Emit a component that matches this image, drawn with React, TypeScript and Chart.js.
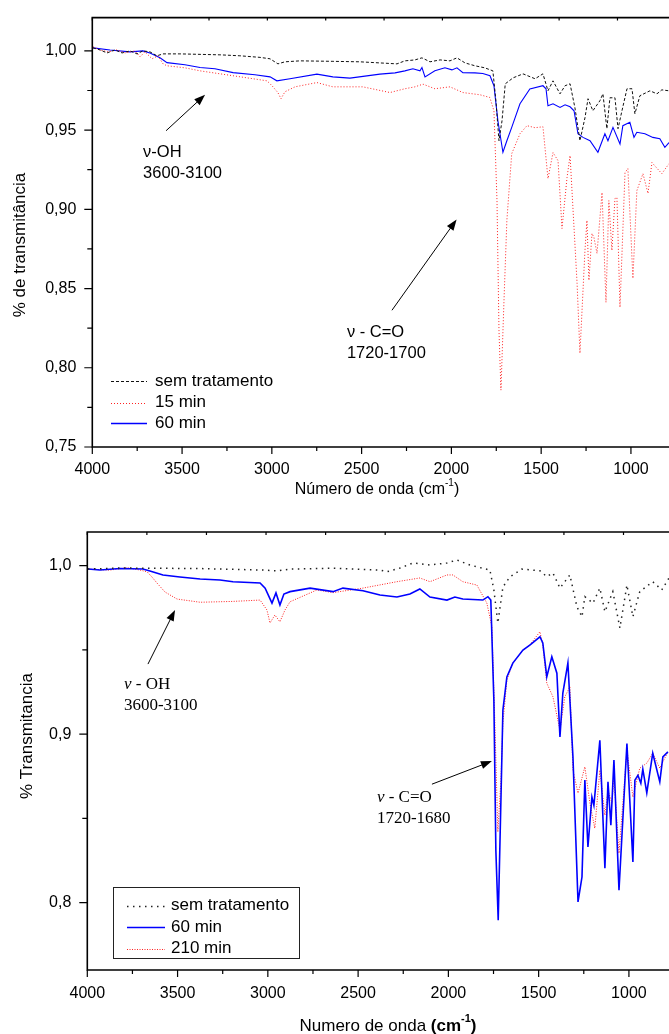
import React, { useEffect, useRef } from "react";
import { Chart, registerables } from "chart.js";

Chart.register(...registerables);

const SANS = "'Liberation Sans', Arial, sans-serif";
const SERIF = "'Liberation Serif', 'Times New Roman', serif";

// ================= TOP CHART DATA =================
const topXTicks = [4000, 3500, 3000, 2500, 2000, 1500, 1000];
const topXMinor = [3750, 3250, 2750, 2250, 1750, 1250];
const topXTopTicks = [4000, 3675, 3350, 3025, 2700, 2375, 2050, 1725, 1400, 1075];
const topYTicks = [0.75, 0.8, 0.85, 0.9, 0.95, 1.0];
const topYMinor = [0.775, 0.825, 0.875, 0.925, 0.975];
const topLabels = ["sem tratamento", "15 min", "60 min"];

const topSemWn = [3996,3957,3918,3874,3834,3790,3751,3718,3679,3640,3606,3512,3400,3289,3178,3066,3010,2966,2927,2843,2660,2510,2398,2303,2259,2203,2164,2119,2063,2008,1969,1924,1869,1814,1769,1752,1735,1718,1700,1656,1601,1534,1490,1462,1434,1395,1367,1339,1312,1284,1256,1239,1212,1173,1156,1134,1117,1089,1072,1050,1022,994,978,950,894,855,828,788];
const topSemT = [1.0019,1.0006,0.9987,1.0006,0.9987,1.0,0.9981,1.0,0.9994,0.9969,0.9981,0.9981,0.9978,0.9975,0.9969,0.9959,0.995,0.9918,0.9931,0.9937,0.9934,0.9931,0.9924,0.9918,0.9937,0.9943,0.9956,0.9931,0.9943,0.9937,0.9956,0.9924,0.9906,0.9893,0.9874,0.9685,0.9433,0.9559,0.9792,0.983,0.9855,0.9824,0.9855,0.9748,0.9811,0.9729,0.978,0.9792,0.9641,0.9433,0.9578,0.9698,0.9622,0.9685,0.9729,0.9509,0.9704,0.9704,0.9509,0.9622,0.9761,0.9761,0.9603,0.9717,0.9748,0.9729,0.9754,0.9748];

const top15Wn = [3996,3957,3912,3862,3817,3762,3734,3707,3667,3634,3606,3584,3484,3400,3216,3027,2999,2966,2949,2927,2871,2749,2660,2493,2342,2259,2203,2158,2092,2008,1936,1841,1786,1763,1746,1735,1724,1707,1691,1664,1618,1579,1534,1490,1462,1434,1406,1384,1356,1339,1300,1284,1256,1245,1234,1217,1206,1189,1161,1139,1123,1106,1089,1078,1061,1033,1017,989,967,933,905,883,828,788];
const top15T = [1.0025,1.0006,0.9994,1.0006,0.9987,1.0,0.9962,0.9994,0.995,0.9969,0.9918,0.9906,0.9893,0.9874,0.9843,0.9811,0.978,0.9736,0.9698,0.9742,0.9773,0.98,0.9773,0.9773,0.9737,0.9761,0.9773,0.979,0.9761,0.9773,0.9737,0.9723,0.9706,0.9622,0.9055,0.8237,0.7859,0.8426,0.893,0.9351,0.9477,0.9528,0.9515,0.9521,0.9194,0.9358,0.9307,0.8879,0.92,0.9339,0.8533,0.8092,0.8741,0.893,0.8552,0.8848,0.8822,0.8722,0.9106,0.8413,0.9055,0.8741,0.9068,0.9074,0.8382,0.9232,0.9257,0.8564,0.9118,0.9225,0.91,0.9295,0.9225,0.9288];

const top60Wn = [3996,3901,3790,3718,3679,3623,3584,3484,3400,3317,3216,3094,3010,2972,2899,2749,2660,2565,2398,2314,2259,2214,2175,2164,2147,2092,2036,1997,1969,1936,1869,1825,1785,1763,1741,1713,1691,1664,1618,1563,1490,1473,1462,1434,1395,1367,1339,1317,1295,1267,1228,1184,1145,1128,1100,1061,1045,1006,983,967,922,878,839,811,788];
const top60T = [1.0019,1.0006,0.9994,1.0,0.9987,0.9956,0.9926,0.9912,0.9895,0.9887,0.9863,0.9849,0.9836,0.9811,0.9824,0.9853,0.9836,0.9828,0.9853,0.9861,0.9874,0.9887,0.9874,0.9895,0.9836,0.9874,0.9893,0.988,0.9893,0.9863,0.9861,0.9857,0.9843,0.978,0.9559,0.936,0.9433,0.9517,0.9666,0.9759,0.978,0.9761,0.9654,0.9666,0.9643,0.966,0.9647,0.9622,0.9477,0.9454,0.9433,0.936,0.9477,0.9433,0.9517,0.9412,0.9528,0.9549,0.9454,0.9486,0.9477,0.9454,0.9446,0.9391,0.9421];

// ================= BOTTOM CHART DATA =================
const botXTicks = [4000, 3500, 3000, 2500, 2000, 1500, 1000];
const botXMinor = [3750, 3250, 2750, 2250, 1750, 1250];
const botXTopTicks = [4000, 3670, 3340, 3010, 2680, 2350, 2020, 1690, 1360, 1030];
const botYTicks = [0.8, 0.9, 1.0];
const botYMinor = [0.85, 0.95];
const botLabels = ["sem tratamento", "60 min", "210 min"];

const botSemWn = [3996,3819,3653,3375,3026,2949,2877,2639,2379,2340,2268,2196,2102,2008,1953,1881,1770,1748,1726,1698,1660,1593,1493,1455,1421,1382,1327,1288,1260,1244,1199,1161,1133,1089,1050,1011,978,940,868,818,778];
const botSemT = [0.998,0.9986,0.9985,0.9983,0.9974,0.9969,0.998,0.9985,0.9974,0.9964,0.9986,1.0016,1.0004,1.0016,1.0034,1.0004,0.9974,0.9856,0.966,0.9873,0.9933,0.998,0.997,0.9935,0.9957,0.9867,0.9945,0.9756,0.9697,0.9816,0.9778,0.9867,0.9727,0.9846,0.963,0.9885,0.9697,0.9846,0.9905,0.9856,0.9927];

const bot60Wn = [3996,3930,3819,3692,3653,3581,3487,3375,3265,3193,3043,3015,2977,2955,2933,2911,2877,2766,2639,2584,2473,2379,2285,2213,2158,2102,2008,1964,1920,1809,1781,1765,1748,1737,1724,1709,1698,1676,1643,1587,1549,1493,1477,1455,1427,1399,1382,1366,1338,1310,1282,1260,1244,1227,1205,1194,1161,1133,1116,1100,1083,1055,1011,978,967,950,934,923,901,868,829,812,784];
const bot60T = [0.998,0.9974,0.9983,0.998,0.9969,0.9945,0.9933,0.9921,0.9915,0.9905,0.9897,0.9867,0.9778,0.9838,0.9766,0.9832,0.9846,0.9867,0.9846,0.9867,0.9851,0.9826,0.9814,0.9832,0.9862,0.9814,0.9796,0.9814,0.9802,0.9796,0.9816,0.9796,0.92,0.831,0.7895,0.8608,0.9143,0.934,0.9422,0.9499,0.9529,0.9578,0.9541,0.934,0.9459,0.9362,0.8984,0.9244,0.9422,0.8865,0.8004,0.8152,0.8727,0.833,0.8627,0.8578,0.8964,0.8204,0.8717,0.8459,0.8846,0.8073,0.8945,0.8241,0.8727,0.8756,0.8709,0.8792,0.8651,0.8887,0.8717,0.8865,0.8895];

const bot210Wn = [3996,3874,3780,3708,3669,3642,3614,3570,3503,3375,3193,3043,3005,2988,2961,2933,2905,2877,2728,2639,2473,2285,2158,2102,2008,1975,1920,1842,1787,1759,1743,1726,1709,1698,1676,1643,1587,1549,1493,1477,1455,1421,1382,1355,1327,1310,1282,1244,1216,1189,1161,1133,1116,1094,1083,1055,1011,978,940,901,868,829,784];
const bot210T = [0.998,0.9974,0.9988,0.9974,0.9964,0.9933,0.9897,0.9844,0.9802,0.9783,0.9788,0.9796,0.9737,0.966,0.9707,0.9667,0.9737,0.9786,0.9856,0.984,0.9867,0.9905,0.9927,0.9905,0.9945,0.9945,0.9905,0.9885,0.9778,0.9638,0.9083,0.842,0.8727,0.9065,0.9321,0.9422,0.9499,0.9529,0.9608,0.9529,0.9303,0.9222,0.9024,0.9222,0.9281,0.8786,0.865,0.8806,0.859,0.8441,0.8786,0.8519,0.8667,0.859,0.8746,0.8293,0.8906,0.8627,0.8798,0.8828,0.8887,0.8798,0.8895];

// ================= helpers =================
const pts = (wn: number[], t: number[]) => wn.map((w, i) => ({ x: w, y: t[i] }));

type Part = { t: string; bold?: boolean; sup?: boolean };
type Ann = { lines: string[]; x: number; y: number; arrow: [number, number, number, number] };
type Spec = {
  width: number; height: number; padTop: number; yAxisW: number; xAxisH: number;
  xMin: number; xMax: number; yMin: number; yMax: number;
  xTicks: number[]; xMinor: number[]; xTop: number[]; yTicks: number[]; yMinor: number[]; decimals: number;
  xPad: number; yPad: number;
  datasets: any[];
  legend: { rows: number[]; lineX: [number, number]; textX: number; box?: [number, number, number, number]; font: string; widths: number[] };
  anns: Ann[]; annFont: string; annItalicFont?: string; annGap: number;
  xTitle: { parts: Part[]; cx: number; cy: number; size: number };
  yTitle: { text: string; cx: number; cy: number; size: number };
};

function extras(spec: Spec) {
  return {
    id: "extras",
    afterDraw(chart: any) {
      const ctx: CanvasRenderingContext2D = chart.ctx;
      const a = chart.chartArea;
      const xs = chart.scales.x;
      const ys = chart.scales.y;
      ctx.save();
      ctx.globalAlpha = 1;
      ctx.setLineDash([]);
      ctx.strokeStyle = "#000";
      // frame
      ctx.lineWidth = 1.6;
      ctx.beginPath();
      ctx.moveTo(a.right + 3, a.top);
      ctx.lineTo(a.left, a.top);
      ctx.lineTo(a.left, a.bottom);
      ctx.lineTo(a.right + 3, a.bottom);
      ctx.stroke();
      // ticks
      ctx.lineWidth = 1.2;
      ctx.beginPath();
      spec.xTicks.forEach((v) => { const p = xs.getPixelForValue(v); ctx.moveTo(p, a.bottom); ctx.lineTo(p, a.bottom + 7); });
      spec.xMinor.forEach((v) => { const p = xs.getPixelForValue(v); ctx.moveTo(p, a.bottom); ctx.lineTo(p, a.bottom + 4); });
      spec.xTop.forEach((v) => { const p = xs.getPixelForValue(v); ctx.moveTo(p, a.top); ctx.lineTo(p, a.top + 3); });
      spec.yTicks.forEach((v) => { const p = ys.getPixelForValue(v); ctx.moveTo(a.left - 8, p); ctx.lineTo(a.left, p); });
      spec.yMinor.forEach((v) => { const p = ys.getPixelForValue(v); ctx.moveTo(a.left - 5, p); ctx.lineTo(a.left, p); });
      ctx.stroke();

      // annotations
      ctx.fillStyle = "#000";
      spec.anns.forEach((an) => {
        const [wx0, vy0, wx1, vy1] = an.arrow;
        const x0 = xs.getPixelForValue(wx0), y0 = ys.getPixelForValue(vy0);
        const x1 = xs.getPixelForValue(wx1), y1 = ys.getPixelForValue(vy1);
        const ang = Math.atan2(y1 - y0, x1 - x0);
        const hl = 11, hw = 4;
        ctx.lineWidth = 1;
        ctx.beginPath();
        ctx.moveTo(x0, y0);
        ctx.lineTo(x1 - Math.cos(ang) * hl * 0.8, y1 - Math.sin(ang) * hl * 0.8);
        ctx.stroke();
        ctx.beginPath();
        ctx.moveTo(x1, y1);
        ctx.lineTo(x1 - Math.cos(ang) * hl - Math.sin(ang) * hw, y1 - Math.sin(ang) * hl + Math.cos(ang) * hw);
        ctx.lineTo(x1 - Math.cos(ang) * hl + Math.sin(ang) * hw, y1 - Math.sin(ang) * hl - Math.cos(ang) * hw);
        ctx.closePath();
        ctx.fill();
        const tx = xs.getPixelForValue(an.x);
        const ty = ys.getPixelForValue(an.y);
        ctx.textBaseline = "middle";
        ctx.textAlign = "left";
        an.lines.forEach((line, i) => {
          const yy = ty + i * spec.annGap;
          if (spec.annItalicFont && line.startsWith("ν")) {
            ctx.font = spec.annItalicFont;
            ctx.fillText("ν", tx, yy);
            const w = ctx.measureText("ν").width;
            ctx.font = spec.annFont;
            ctx.fillText(line.slice(1), tx + w, yy);
          } else {
            ctx.font = spec.annFont;
            ctx.fillText(line, tx, yy);
          }
        });
      });

      // legend
      const lg = spec.legend;
      if (lg.box) {
        ctx.lineWidth = 1;
        ctx.strokeStyle = "#222";
        ctx.strokeRect(lg.box[0] + 0.5, lg.box[1] + 0.5, lg.box[2], lg.box[3]);
      }
      chart.data.datasets.forEach((ds: any, i: number) => {
        const yy = Math.round(lg.rows[i]) + 0.5;
        ctx.strokeStyle = String(ds.borderColor);
        ctx.lineWidth = lg.widths[i];
        ctx.setLineDash(ds.borderDash || []);
        ctx.beginPath();
        ctx.moveTo(lg.lineX[0], yy);
        ctx.lineTo(lg.lineX[1], yy);
        ctx.stroke();
        ctx.setLineDash([]);
        ctx.fillStyle = "#000";
        ctx.font = lg.font;
        ctx.textBaseline = "middle";
        ctx.textAlign = "left";
        ctx.fillText(ds.label, lg.textX, lg.rows[i]);
      });

      // x title
      const xt = spec.xTitle;
      const fontFor = (p: Part) => `${p.bold ? "bold " : ""}${p.sup ? Math.round(xt.size * 0.62) : xt.size}px ${SANS}`;
      let total = 0;
      xt.parts.forEach((p) => { ctx.font = fontFor(p); total += ctx.measureText(p.t).width; });
      let cx = xt.cx - total / 2;
      ctx.fillStyle = "#000";
      ctx.textBaseline = "middle";
      ctx.textAlign = "left";
      xt.parts.forEach((p) => {
        ctx.font = fontFor(p);
        ctx.fillText(p.t, cx, p.sup ? xt.cy - xt.size * 0.42 : xt.cy);
        cx += ctx.measureText(p.t).width;
      });
      // y title
      const yt = spec.yTitle;
      ctx.translate(yt.cx, yt.cy);
      ctx.rotate(-Math.PI / 2);
      ctx.font = `${yt.size}px ${SANS}`;
      ctx.textAlign = "center";
      ctx.textBaseline = "middle";
      ctx.fillText(yt.text, 0, 0);
      ctx.restore();
    },
  };
}

function makeConfig(spec: Spec): any {
  return {
    type: "line",
    data: { datasets: spec.datasets },
    options: {
      responsive: false,
      animation: false,
      events: [],
      layout: { padding: { top: spec.padTop, left: 0, right: 0, bottom: 0 }, autoPadding: false },
      plugins: { legend: { display: false }, tooltip: { enabled: false }, title: { display: false } },
      elements: { point: { radius: 0 }, line: { tension: 0 } },
      scales: {
        x: {
          type: "linear",
          reverse: true,
          min: spec.xMin,
          max: spec.xMax,
          grid: { display: false },
          border: { display: false },
          afterBuildTicks: (s: any) => { s.ticks = spec.xTicks.map((v) => ({ value: v })); },
          afterFit: (s: any) => { s.height = spec.xAxisH; },
          ticks: {
            autoSkip: false, maxRotation: 0, minRotation: 0, padding: spec.xPad, color: "#000",
            font: { family: SANS, size: 16 },
            callback: (v: any) => String(v),
          },
        },
        y: {
          type: "linear",
          min: spec.yMin,
          max: spec.yMax,
          grid: { display: false },
          border: { display: false },
          afterBuildTicks: (s: any) => { s.ticks = spec.yTicks.map((v) => ({ value: v })); },
          afterFit: (s: any) => { s.width = spec.yAxisW; },
          ticks: {
            padding: spec.yPad, color: "#000",
            font: { family: SANS, size: 16 },
            callback: (v: any) => Number(v).toFixed(spec.decimals).replace(".", ","),
          },
        },
      },
    },
    plugins: [extras(spec)],
  };
}

const topSpec: Spec = {
  width: 669, height: 510, padTop: 17, yAxisW: 92.3, xAxisH: 63,
  xMin: 788, xMax: 4000, yMin: 0.75, yMax: 1.021,
  xTicks: topXTicks, xMinor: topXMinor, xTop: topXTopTicks, yTicks: topYTicks, yMinor: topYMinor, decimals: 2,
  xPad: 5, yPad: 8,
  datasets: [
    { label: topLabels[0], data: pts(topSemWn, topSemT), borderColor: "#111111", borderWidth: 1, borderDash: [3, 2] },
    { label: topLabels[1], data: pts(top15Wn, top15T), borderColor: "#ff2020", borderWidth: 1, borderDash: [1, 2] },
    { label: topLabels[2], data: pts(top60Wn, top60T), borderColor: "#0000ff", borderWidth: 1.1 },
  ],
  legend: { rows: [381, 402.5, 423], lineX: [111, 147], textX: 155, font: `17px ${SANS}`, widths: [1, 1, 1.5] },
  anns: [
    { lines: ["ν-OH", "3600-3100"], x: 3717, y: 0.9358, arrow: [3589, 0.9496, 3372, 0.9723] },
    { lines: ["ν - C=O", "1720-1700"], x: 2582, y: 0.8224, arrow: [2331, 0.8363, 1971, 0.8936] },
  ],
  annFont: `16.5px ${SANS}`,
  annGap: 21,
  xTitle: { parts: [{ t: "Número de onda (cm" }, { t: "-1", sup: true }, { t: ")" }], cx: 377, cy: 490, size: 16 },
  yTitle: { text: "% de transmitância", cx: 20, cy: 245, size: 17 },
};

const botSpec: Spec = {
  width: 669, height: 524, padTop: 22, yAxisW: 87.3, xAxisH: 64,
  xMin: 778, xMax: 4000, yMin: 0.76, yMax: 1.02,
  xTicks: botXTicks, xMinor: botXMinor, xTop: botXTopTicks, yTicks: botYTicks, yMinor: botYMinor, decimals: 1,
  xPad: 6, yPad: 8,
  datasets: [
    { label: botLabels[0], data: pts(botSemWn, botSemT), borderColor: "#222222", borderWidth: 1.5, borderDash: [1.5, 4.5] },
    { label: botLabels[1], data: pts(bot60Wn, bot60T), borderColor: "#0000ff", borderWidth: 1.6 },
    { label: botLabels[2], data: pts(bot210Wn, bot210T), borderColor: "#ff2020", borderWidth: 1, borderDash: [1, 1.5] },
  ],
  legend: { rows: [395.5, 417, 438.7], lineX: [127, 165], textX: 171, box: [113, 377, 186, 71], font: `17px ${SANS}`, widths: [1.5, 1.6, 1.2] },
  anns: [
    { lines: ["ν - OH", "3600-3100"], x: 3797, y: 0.9297, arrow: [3664, 0.9416, 3514, 0.9737] },
    { lines: ["ν - C=O", "1720-1680"], x: 2396, y: 0.8626, arrow: [2091, 0.8703, 1759, 0.884] },
  ],
  annFont: `17px ${SERIF}`,
  annItalicFont: `italic 17px ${SERIF}`,
  annGap: 21,
  xTitle: { parts: [{ t: "Numero de onda " }, { t: "(cm", bold: true }, { t: "-1", sup: true, bold: true }, { t: ")", bold: true }], cx: 388, cy: 516, size: 17 },
  yTitle: { text: "% Transmitancia", cx: 27, cy: 226, size: 17 },
};

function SpectrumChart({ spec, top }: { spec: Spec; top: number }) {
  const ref = useRef<HTMLCanvasElement | null>(null);
  useEffect(() => {
    if (!ref.current) return;
    const chart = new Chart(ref.current, makeConfig(spec));
    return () => chart.destroy();
  }, [spec]);
  return (
    <canvas
      ref={ref}
      width={spec.width}
      height={spec.height}
      style={{ position: "absolute", left: 0, top, width: spec.width, height: spec.height }}
    />
  );
}

export default function App() {
  return (
    <div style={{ position: "absolute", left: 0, top: 0, width: 669, height: 1034, overflow: "hidden", background: "#fff" }}>
      <SpectrumChart spec={topSpec} top={0} />
      <SpectrumChart spec={botSpec} top={510} />
    </div>
  );
}
